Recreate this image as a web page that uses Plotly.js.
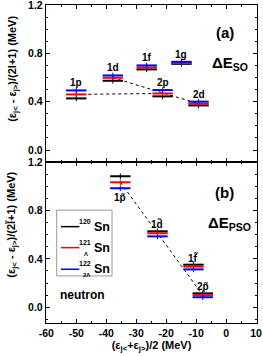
<!DOCTYPE html>
<html><head><meta charset="utf-8">
<script src="https://cdn.plot.ly/plotly-3.0.1.min.js"></script>
<style>html,body{margin:0;padding:0;background:#fff}#chart{width:263px;height:356px}</style>
</head><body><div id="chart"></div>
<script>
// ---- data (top panel: spin-orbit) ----
const statesSO = ['1p','1d','1f','1g','2p','2d'];
const xSO      = [-50, -37.8, -26.5, -14.9, -21.2, -9.2];
const so120    = [0.427, 0.573, 0.667, 0.713, 0.444, 0.369];
const so121    = [0.460, 0.598, 0.683, 0.720, 0.468, 0.383];
const so122    = [0.493, 0.617, 0.700, 0.730, 0.496, 0.400];
const soPairs  = [['1p','2p'], ['1d','2d']];

// ---- data (bottom panel: pseudospin-orbit) ----
const statesPSO = ['1p\u0303','1d\u0303','1f\u0303','2p\u0303'];
const xPSO      = [-35.3, -22.9, -10.9, -7.8];
const pso120    = [1.083, 0.628, 0.352, 0.115];
const pso121    = [1.033, 0.612, 0.336, 0.100];
const pso122    = [0.984, 0.586, 0.313, 0.083];
const psoChain  = ['1p\u0303','1d\u0303','2p\u0303'];

const nuclei = [
  {sup:'120', sub:'', color:'#000000'},
  {sup:'121', sub:'Λ', color:'#ff0000'},
  {sup:'122', sub:'2Λ', color:'#0000ff'}
];
const xTicks = [-60,-50,-40,-30,-20,-10,0,10];
const yTicks = [0.0,0.4,0.8,1.2];

// ---- build ----
const FAM = 'Liberation Sans, Arial, sans-serif';
const B = t => '<b>' + t + '</b>';
const halfW = 3.4;
const traces = [];
function levels(xs, ys, color, xa, ya){
  return {x: xs, y: ys, xaxis: xa, yaxis: ya, type:'scatter', mode:'markers',
    marker:{symbol:'line-ns-open', size:4, color:color, line:{color:color, width:1}},
    error_x:{type:'constant', value:halfW, width:0, thickness:2, color:color},
    showlegend:false, hoverinfo:'skip'};
}
function dotted(names, states, xs, ys, xa, ya){
  const idx = names.map(n => states.indexOf(n));
  return {x: idx.map(i=>xs[i]), y: idx.map(i=>ys[i]), xaxis:xa, yaxis:ya, type:'scatter', mode:'lines',
    line:{color:'#000', width:1, dash:'dot'}, showlegend:false, hoverinfo:'skip'};
}
soPairs.forEach(p => traces.push(dotted(p, statesSO, xSO, so121, 'x2','y2')));
traces.push(dotted(psoChain, statesPSO, xPSO, pso121, 'x','y'));
[so120, so121, so122].forEach((v,k)=> traces.push(levels(xSO, v, nuclei[k].color, 'x2','y2')));
[pso120, pso121, pso122].forEach((v,k)=> traces.push(levels(xPSO, v, nuclei[k].color, 'x','y')));

const f = s => ({family:FAM, size:s, color:'#000'});
const ann = [];
statesSO.forEach((s,i)=> ann.push({x:xSO[i], y:so122[i], xref:'x2', yref:'y2', text:B(s), showarrow:false,
  xanchor:'center', yanchor:'bottom', yshift:0, font:f(10)}));
statesPSO.forEach((s,i)=> {
  const below = (i===0);
  ann.push({x:xPSO[i], y: below ? pso122[i] : pso120[i], xref:'x', yref:'y', text:B(s), showarrow:false,
    xanchor:'center', yanchor: below ? 'top':'bottom', yshift: below ? -2 : -1, font:f(10)});
});
const P = (x,y,t,s,extra) => Object.assign({x:x, y:y, xref:'paper', yref:'paper', text:t, showarrow:false,
  xanchor:'center', yanchor:'middle', font:f(s)}, extra||{});
ann.push(P(0.848, 0.912, B('(a)'), 15));
ann.push(P(0.872, 0.815, B('ΔE<sub>SO</sub>'), 15));
ann.push(P(0.848, 0.409, B('(b)'), 15));
ann.push(P(0.872, 0.312, B('ΔE<sub>PSO</sub>'), 15));
ann.push(P(0.175, 0.088, B('neutron'), 12));
ann.push(P(-0.16, 0.80, B('(ε<sub>j<</sub> - ε<sub>j></sub>)/(2l+1) (MeV)'), 11, {textangle:-90}));
ann.push(P(-0.16, 0.31, B('(ε<sub>j<</sub> - ε<sub>j></sub>)/(2l\u0303+1) (MeV)'), 11, {textangle:-90}));

// manual legend
const shapes = [{type:'rect', xref:'paper', yref:'paper', x0:0.0507, x1:0.313, y0:0.148, y1:0.355, line:{color:'#999', width:1}}];
const legY = [0.303, 0.237, 0.169];
nuclei.forEach((n,k)=>{
  shapes.push({type:'line', xref:'paper', yref:'paper', x0:0.071, x1:0.158, y0:legY[k], y1:legY[k], line:{color:n.color, width:1.5}});
  ann.push(P(0.216, legY[k], B('Sn'), 12.5, {xanchor:'left'}));
  ann.push(P(0.222, legY[k]+0.017, B(n.sup), 7, {xanchor:'right'}));
  if(n.sub) ann.push(P(0.19, legY[k]-0.019, B(n.sub), 6));
});

const axBase = {showline:true, linecolor:'#000', linewidth:1.2, mirror:'allticks', ticks:'inside', ticklen:4, tickwidth:1,
  tickcolor:'#000', zeroline:false, showgrid:false, ticklabeloverflow:'allow',
  tickfont:{family:FAM, size:10.5, color:'#000', weight:'bold'}};
const minX = {ticks:'inside', ticklen:2, tickcolor:'#000', dtick:5};
const minY = {ticks:'inside', ticklen:2, tickcolor:'#000', dtick:0.1, tick0:0};
const layout = {
  width:263, height:356, margin:{l:46, r:6, t:5, b:33}, paper_bgcolor:'#fff', plot_bgcolor:'#fff',
  showlegend:false, font:{family:FAM, color:'#000'},
  xaxis: Object.assign({}, axBase, {domain:[0,1], anchor:'y', range:[-60.1,10.3], tickvals:xTicks, ticktext:xTicks.map(v=>B(String(v))),
    minor:minX, title:{text:B('(ε<sub>j<</sub>+ε<sub>j></sub>)/2 (MeV)'), font:f(11), standoff:3}}),
  yaxis: Object.assign({}, axBase, {domain:[0,0.506], anchor:'x', range:[-0.13,1.2], tickvals:yTicks, ticktext:yTicks.map(v=>B(v.toFixed(1))),
    minor:minY}),
  xaxis2: Object.assign({}, axBase, {domain:[0,1], anchor:'y2', matches:'x', range:[-60.1,10.3], tickvals:xTicks, showticklabels:false,
    minor:minX}),
  yaxis2: Object.assign({}, axBase, {domain:[0.506,1], anchor:'x2', range:[-0.1,1.2], tickvals:yTicks, ticktext:yTicks.map(v=>B(v.toFixed(1))),
    minor:minY}),
  annotations: ann, shapes: shapes
};
Plotly.newPlot('chart', traces, layout, {displayModeBar:false, staticPlot:true});
</script></body></html>
